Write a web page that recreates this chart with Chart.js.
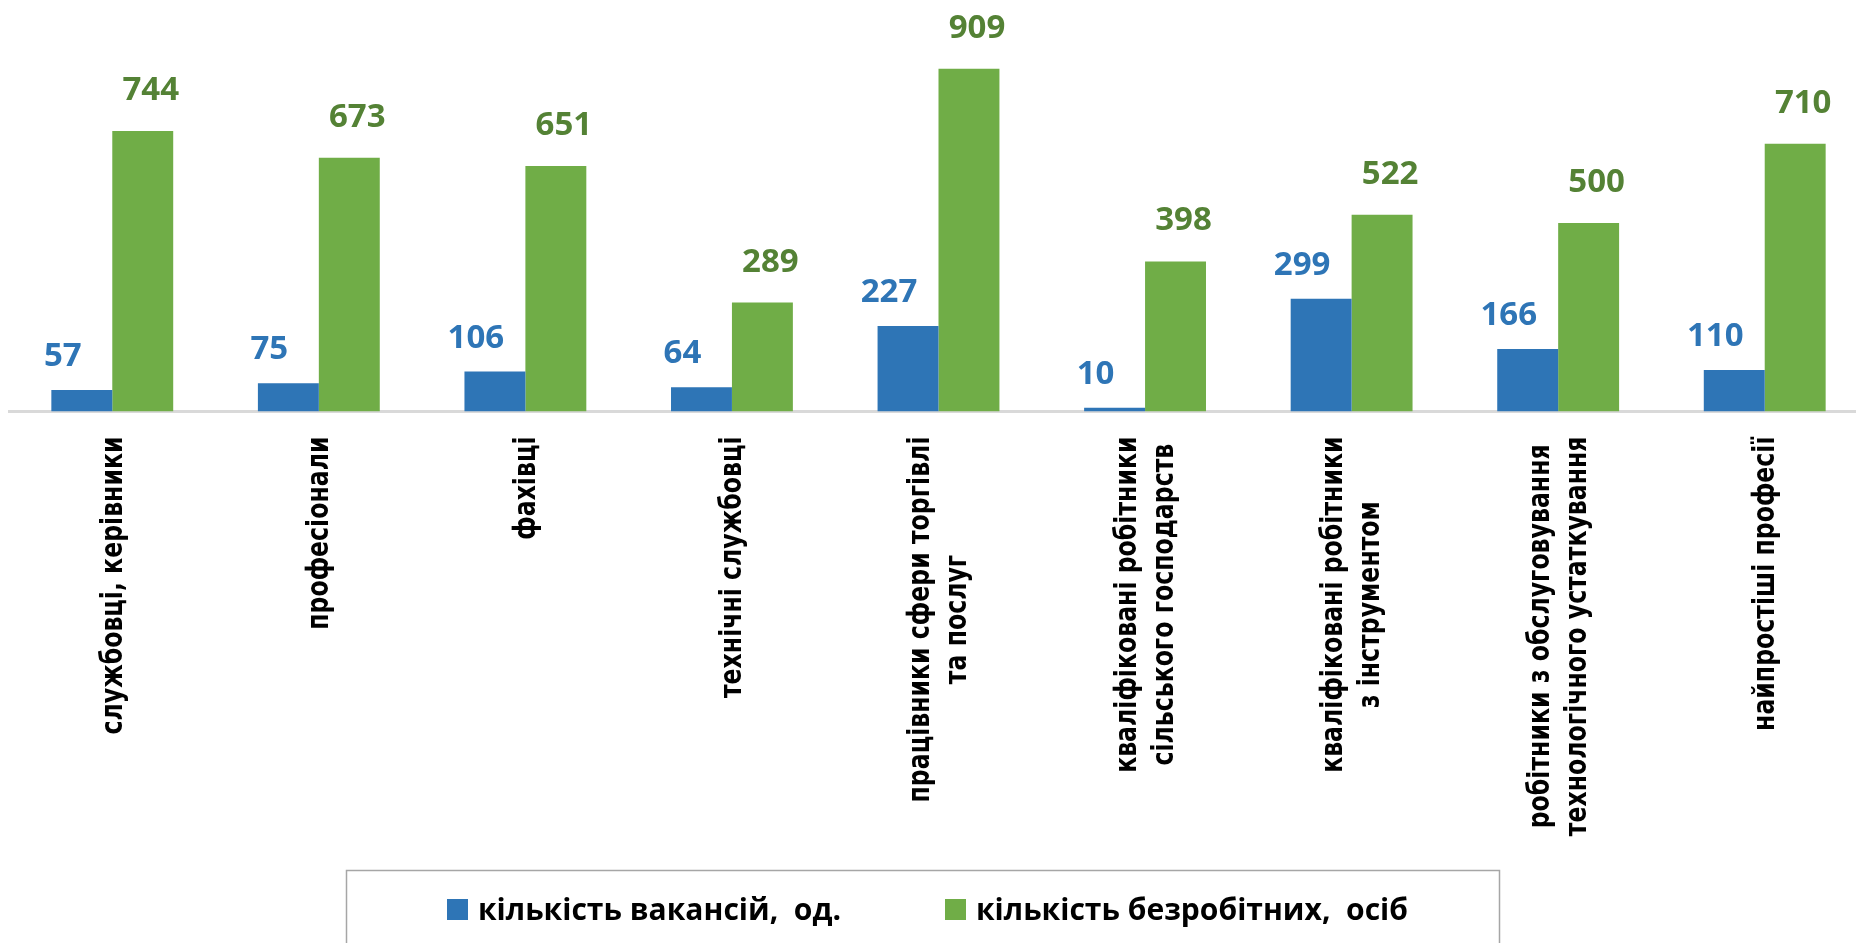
<!DOCTYPE html>
<html>
<head>
<meta charset="utf-8">
<script src="https://cdn.jsdelivr.net/npm/chart.js@4.4.1/dist/chart.umd.min.js"></script>
<style>
  html, body { margin: 0; background: #fff; overflow: hidden; }
  #wrap { width: 1870px; height: 943px; position: relative; }
</style>
</head>
<body>
<div id="wrap"><canvas id="jobsChart"></canvas></div>
<script>
const categories = [
  'службовці, керівники',
  'професіонали',
  'фахівці',
  'технічні службовці',
  ['працівники сфери торгівлі', 'та послуг'],
  ['кваліфіковані робітники', 'сільського господарств'],
  ['кваліфіковані робітники', 'з інструментом'],
  ['робітники з обслуговування', 'технологічного устаткування'],
  'найпростіші професії'
]
const vacancies = [57, 75, 106, 64, 227, 10, 299, 166, 110]
const unemployed = [744, 673, 651, 289, 909, 398, 522, 500, 710]
const seriesNames = ['кількість вакансій,  од.', 'кількість безробітних,  осіб']

// value labels above bars, shifted sideways like in the original
const valueLabels = {
  id: 'valueLabels',
  afterDatasetsDraw(chart) {
    const ctx = chart.ctx
    ctx.save()
    ctx.font = '700 33px "Open Sans"'
    ctx.textAlign = 'center'
    ctx.textBaseline = 'alphabetic'
    chart.data.datasets.forEach((ds, i) => {
      const meta = chart.getDatasetMeta(i)
      const dx = i === 0 ? -19 : 8
      const gap = i === 0 ? 24 : 31
      ctx.fillStyle = ds.labelColor
      meta.data.forEach((bar, j) => {
        ctx.fillText(String(ds.data[j]), bar.x + dx, bar.y - gap)
      })
    })
    ctx.restore()
  }
}

// rotated category names under the axis
const categoryNames = {
  id: 'categoryNames',
  afterDraw(chart) {
    const ctx = chart.ctx
    const xs = chart.scales.x
    ctx.save()
    ctx.font = 'bold 30px "DejaVu Sans"'
    const k = 298 / ctx.measureText(categories[0]).width
    const top = chart.chartArea.bottom + 25
    categories.forEach((c, i) => {
      const lines = Array.isArray(c) ? c : [c]
      const cx = xs.getPixelForValue(i)
      const maxW = Math.max(...lines.map(l => ctx.measureText(l).width)) * k
      const cy = top + maxW / 2
      lines.forEach((l, n) => {
        const off = (n - (lines.length - 1) / 2) * 37 + 1.5
        ctx.save()
        ctx.translate(cx + off, cy)
        ctx.rotate(-Math.PI / 2)
        ctx.scale(k, 1)
        ctx.textAlign = 'center'
        ctx.textBaseline = 'middle'
        ctx.fillStyle = '#000'
        ctx.fillText(l, 0, 0)
        ctx.restore()
      })
    })
    ctx.restore()
  }
}

// boxed legend at the bottom
const boxLegend = {
  id: 'boxLegend',
  afterDraw(chart) {
    const ctx = chart.ctx
    ctx.save()
    ctx.strokeStyle = '#a6a6a6'
    ctx.lineWidth = 1.5
    ctx.strokeRect(346.5, 870.5, 1153, 120)
    ctx.font = '700 30px "Open Sans"'
    const kL = 363 / ctx.measureText(seriesNames[0]).width
    const starts = [447, 945]
    chart.data.datasets.forEach((ds, i) => {
      ctx.fillStyle = ds.backgroundColor
      ctx.fillRect(starts[i], 899, 21, 21)
      ctx.save()
      ctx.translate(starts[i] + 31, 920)
      ctx.scale(kL, 1)
      ctx.fillStyle = '#000'
      ctx.textBaseline = 'alphabetic'
      ctx.fillText(ds.label, 0, 0)
      ctx.restore()
    })
    ctx.restore()
  }
}

new Chart(document.getElementById('jobsChart'), {
  type: 'bar',
  data: {
    labels: categories,
    datasets: [
      {
        label: seriesNames[0],
        data: vacancies,
        backgroundColor: '#2E75B6',
        labelColor: '#2E75B6'
      },
      {
        label: seriesNames[1],
        data: unemployed,
        backgroundColor: '#70AD47',
        labelColor: '#548235'
      }
    ]
  },
  options: {
    responsive: true,
    maintainAspectRatio: false,
    animation: false,
    devicePixelRatio: 1,
    datasets: {
      bar: { categoryPercentage: 0.59, barPercentage: 1 }
    },
    layout: {
      padding: { left: 9, right: 2, top: 34.5, bottom: 531.5 }
    },
    plugins: {
      legend: { display: false },
      tooltip: { enabled: false }
    },
    scales: {
      x: {
        grid: { display: false },
        ticks: { display: false },
        border: { display: true, color: '#d9d9d9', width: 3 },
        afterFit: s => { s.height = 0 }
      },
      y: {
        display: false,
        min: 0,
        max: 1000
      }
    }
  },
  plugins: [valueLabels, categoryNames, boxLegend]
})
</script>
</body>
</html>
